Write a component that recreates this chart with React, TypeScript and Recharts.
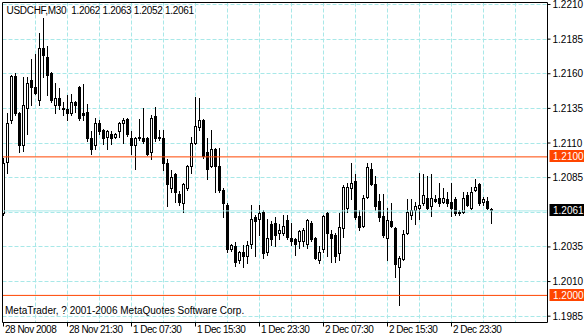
import React from "react";
import { ComposedChart, Bar, XAxis, YAxis, ReferenceLine, CartesianGrid } from "recharts";

const FONT = "'Liberation Sans', Arial, sans-serif";
const GRID = "#a8e8e8";
const LEVEL = "#ff4500";

// USDCHF M30 bars (oldest first)
const opens = [
  1.2059, 1.2096, 1.2126, 1.2158, 1.2131, 1.2108, 1.2135, 1.2155, 1.2150, 1.2141,
  1.2178, 1.2172, 1.2160, 1.2137, 1.2142, 1.2135, 1.2134, 1.2131, 1.2139, 1.2150,
  1.2131, 1.2132, 1.2113, 1.2108, 1.2124, 1.2119, 1.2114, 1.2116, 1.2114, 1.2118,
  1.2124, 1.2127, 1.2113, 1.2108, 1.2114, 1.2113, 1.2113, 1.2103, 1.2129, 1.2113,
  1.2113, 1.2095, 1.2077, 1.2087, 1.2073, 1.2066, 1.2077, 1.2093, 1.2110, 1.2121,
  1.2126, 1.2103, 1.2093, 1.2105, 1.2093, 1.2076, 1.2065, 1.2033, 1.2035, 1.2025,
  1.2031, 1.2028, 1.2037, 1.2056, 1.2055, 1.2060, 1.2031, 1.2051, 1.2052, 1.2045,
  1.2045, 1.2054, 1.2041, 1.2040, 1.2039, 1.2039, 1.2037, 1.2052, 1.2041, 1.2025,
  1.2033, 1.2059, 1.2044, 1.2043, 1.2030, 1.2048, 1.2063, 1.2077, 1.2082, 1.2057,
  1.2050, 1.2071, 1.2091, 1.2080, 1.2068, 1.2057, 1.2041, 1.2053, 1.2048, 1.2020,
  1.2026, 1.2045, 1.2058, 1.2061, 1.2063, 1.2066, 1.2070, 1.2064, 1.2069, 1.2070,
  1.2067, 1.2069, 1.2067, 1.2069, 1.2060, 1.2060, 1.2072, 1.2063, 1.2076, 1.2080,
  1.2067, 1.2068, 1.2062,
];
const highs = [
  1.2099, 1.2131, 1.2159, 1.2160, 1.2132, 1.2157, 1.2157, 1.2170, 1.2174, 1.2189,
  1.2200, 1.2180, 1.2161, 1.2153, 1.2149, 1.2139, 1.2144, 1.2145, 1.2140, 1.2151,
  1.2152, 1.2138, 1.2118, 1.2128, 1.2126, 1.2120, 1.2119, 1.2118, 1.2117, 1.2125,
  1.2128, 1.2128, 1.2118, 1.2114, 1.2127, 1.2135, 1.2114, 1.2130, 1.2136, 1.2119,
  1.2119, 1.2098, 1.2090, 1.2088, 1.2075, 1.2081, 1.2094, 1.2114, 1.2143, 1.2142,
  1.2127, 1.2113, 1.2119, 1.2106, 1.2106, 1.2077, 1.2066, 1.2037, 1.2038, 1.2032,
  1.2036, 1.2039, 1.2065, 1.2058, 1.2065, 1.2061, 1.2055, 1.2053, 1.2056, 1.2051,
  1.2058, 1.2058, 1.2052, 1.2041, 1.2047, 1.2048, 1.2055, 1.2053, 1.2042, 1.2035,
  1.2058, 1.2060, 1.2047, 1.2045, 1.2059, 1.2079, 1.2081, 1.2095, 1.2087, 1.2061,
  1.2072, 1.2095, 1.2095, 1.2086, 1.2073, 1.2073, 1.2063, 1.2066, 1.2049, 1.2028,
  1.2047, 1.2069, 1.2069, 1.2067, 1.2088, 1.2087, 1.2086, 1.2087, 1.2072, 1.2081,
  1.2077, 1.2074, 1.2081, 1.2071, 1.2061, 1.2074, 1.2074, 1.2078, 1.2084, 1.2081,
  1.2071, 1.2071, 1.2063,
];
const lows = [
  1.2058, 1.2088, 1.2124, 1.2130, 1.2103, 1.2104, 1.2116, 1.2137, 1.2145, 1.2137,
  1.2157, 1.2144, 1.2139, 1.2131, 1.2134, 1.2130, 1.2126, 1.2130, 1.2132, 1.2126,
  1.2126, 1.2111, 1.2102, 1.2105, 1.2116, 1.2109, 1.2105, 1.2109, 1.2113, 1.2114,
  1.2110, 1.2115, 1.2102, 1.2091, 1.2112, 1.2110, 1.2101, 1.2098, 1.2111, 1.2112,
  1.2090, 1.2064, 1.2074, 1.2067, 1.2065, 1.2060, 1.2076, 1.2088, 1.2109, 1.2119,
  1.2099, 1.2084, 1.2092, 1.2074, 1.2074, 1.2056, 1.2031, 1.2032, 1.2021, 1.2023,
  1.2020, 1.2023, 1.2034, 1.2028, 1.2043, 1.2027, 1.2029, 1.2036, 1.2035, 1.2040,
  1.2043, 1.2040, 1.2036, 1.2029, 1.2034, 1.2035, 1.2034, 1.2039, 1.2026, 1.2023,
  1.2031, 1.2028, 1.2024, 1.2024, 1.2025, 1.2042, 1.2060, 1.2069, 1.2055, 1.2047,
  1.2049, 1.2070, 1.2079, 1.2061, 1.2053, 1.2042, 1.2025, 1.2049, 1.2013, 1.1993,
  1.2025, 1.2044, 1.2055, 1.2051, 1.2055, 1.2065, 1.2062, 1.2057, 1.2067, 1.2064,
  1.2066, 1.2064, 1.2057, 1.2058, 1.2058, 1.2059, 1.2064, 1.2062, 1.2075, 1.2065,
  1.2065, 1.2062, 1.2052,
];
const closes = [
  1.2095, 1.2124, 1.2158, 1.2131, 1.2108, 1.2137, 1.2153, 1.2150, 1.2146, 1.2178,
  1.2173, 1.2159, 1.2141, 1.2142, 1.2137, 1.2134, 1.2131, 1.2139, 1.2137, 1.2128,
  1.2130, 1.2113, 1.2105, 1.2124, 1.2118, 1.2113, 1.2118, 1.2113, 1.2116, 1.2124,
  1.2126, 1.2116, 1.2108, 1.2113, 1.2113, 1.2111, 1.2102, 1.2128, 1.2113, 1.2114,
  1.2095, 1.2080, 1.2085, 1.2074, 1.2067, 1.2080, 1.2093, 1.2110, 1.2122, 1.2126,
  1.2100, 1.2091, 1.2105, 1.2093, 1.2076, 1.2066, 1.2033, 1.2036, 1.2024, 1.2031,
  1.2028, 1.2036, 1.2055, 1.2053, 1.2059, 1.2030, 1.2041, 1.2040, 1.2043, 1.2047,
  1.2050, 1.2042, 1.2039, 1.2037, 1.2046, 1.2047, 1.2054, 1.2040, 1.2027, 1.2031,
  1.2057, 1.2045, 1.2041, 1.2028, 1.2049, 1.2078, 1.2078, 1.2081, 1.2056, 1.2049,
  1.2070, 1.2092, 1.2080, 1.2064, 1.2056, 1.2043, 1.2054, 1.2050, 1.2022, 1.2027,
  1.2044, 1.2060, 1.2061, 1.2064, 1.2065, 1.2072, 1.2063, 1.2070, 1.2068, 1.2066,
  1.2070, 1.2066, 1.2063, 1.2059, 1.2059, 1.2070, 1.2065, 1.2074, 1.2078, 1.2066,
  1.2069, 1.2063, 1.2061,
];

const timeTickBars = [0, 16, 32, 48, 64, 80, 96, 112];
const timeTickLabels = [
  "28 Nov 2008", "28 Nov 21:30", "1 Dec 07:30", "1 Dec 15:30",
  "1 Dec 23:30", "2 Dec 07:30", "2 Dec 15:30", "2 Dec 23:30",
];
const timeGridBars = [8, 16, 24, 32, 40, 48, 56, 64, 72, 80, 88, 96, 104, 112, 120, 128];
const priceGrid = [1.2210, 1.2185, 1.2160, 1.2135, 1.2110, 1.2085, 1.2060, 1.2035, 1.2010, 1.1985];
const priceLevels = [1.2100, 1.2000];
const lastPrice = 1.2061;
const symbolInfo = "USDCHF,M30";

const X_DOMAIN = [-0.25, 136];
const Y_DOMAIN = [1.198044, 1.221144];

// 1.2060 label sits under the bid tag
const axisPrices = priceGrid.filter((p) => p !== 1.2060);

const data = opens.map((o, i) => ({
  i,
  o,
  h: highs[i],
  l: lows[i],
  c: closes[i],
  range: [lows[i], highs[i]],
}));

const last = data[data.length - 1];
const headline = `${symbolInfo}  ${[last.o, last.h, last.l, last.c].map((v) => v.toFixed(4)).join(" ")}`;

const Candle = (props: any) => {
  const { x, y, width, height, payload } = props;
  if (!payload || x == null) return null;
  const { o, h, l, c } = payload;
  const top = Math.min(y, y + height);
  const span = Math.abs(height);
  const py = (v: number) => (h === l ? top : top + ((h - v) / (h - l)) * span);
  const col = Math.floor(x + width / 2);
  const rH = Math.floor(py(h));
  const rL = Math.floor(py(l));
  const bTop = Math.floor(py(Math.max(o, c)));
  const bBot = Math.floor(py(Math.min(o, c)));
  const up = c > o;
  return (
    <g>
      <rect x={col} y={rH} width={1} height={rL - rH + 1} fill="#000" />
      <rect x={col - 1} y={bTop} width={3} height={bBot - bTop + 1} fill="#000" />
      {up && bBot - bTop > 1 && (
        <rect x={col} y={bTop + 1} width={1} height={bBot - bTop - 1} fill="#fff" />
      )}
    </g>
  );
};

const PriceTag = ({ viewBox, text, bg }: any) => {
  if (!viewBox) return null;
  const x = viewBox.x + viewBox.width + 2;
  const y = Math.floor(viewBox.y);
  return (
    <g>
      <rect x={x} y={y - 6} width={36} height={12} fill={bg} />
      <text x={x + 3.5} y={y + 4} fill="#fff" fontSize={10} fontFamily={FONT}>
        {text}
      </text>
    </g>
  );
};

const TimeTick = (props: any) => {
  const { x, y, payload } = props;
  const idx = timeTickBars.indexOf(payload.value);
  if (idx < 0) return null;
  return (
    <g>
      <line x1={x} x2={x} y1={y - 4} y2={y} stroke="#000" />
      <text
        x={x + 1.5}
        y={y + 6.5}
        fill="#000"
        fontSize={10}
        fontFamily={FONT}
        letterSpacing={-0.5}
        textAnchor="start"
      >
        {timeTickLabels[idx]}
      </text>
    </g>
  );
};

// grid positions: use the axis scale when it is exposed, else the plot offset
const gridRows = (args: any) => {
  const s = args?.yAxis?.scale;
  const off = args?.offset;
  return priceGrid.map((p) => {
    const v =
      typeof s === "function"
        ? s(p)
        : off.top + ((Y_DOMAIN[1] - p) / (Y_DOMAIN[1] - Y_DOMAIN[0])) * off.height;
    return Math.floor(v) + 0.5;
  });
};
const gridCols = (args: any) => {
  const s = args?.xAxis?.scale;
  const off = args?.offset;
  return timeGridBars.map((b) => {
    const v =
      typeof s === "function"
        ? s(b)
        : off.left + ((b - X_DOMAIN[0]) / (X_DOMAIN[1] - X_DOMAIN[0])) * off.width;
    return Math.floor(v) + 0.5;
  });
};

export default function App() {
  return (
    <div style={{ position: "absolute", left: 0, top: 0, width: 584, height: 336, background: "#fff" }}>
      <ComposedChart
        width={584}
        height={336}
        data={data}
        margin={{ top: 2.5, right: 0.5, bottom: 0.5, left: 2.5 }}
      >
        <CartesianGrid
          stroke={GRID}
          strokeDasharray="4 2"
          horizontalCoordinatesGenerator={gridRows}
          verticalCoordinatesGenerator={gridCols}
        />
        <XAxis
          type="number"
          dataKey="i"
          domain={X_DOMAIN}
          allowDataOverflow
          ticks={timeTickBars}
          interval={0}
          height={13}
          tickSize={4}
          tickMargin={0}
          stroke="#000"
          tickLine={false}
          tick={<TimeTick />}
        />
        <YAxis
          type="number"
          orientation="right"
          domain={Y_DOMAIN}
          allowDataOverflow
          ticks={axisPrices}
          interval={0}
          width={36}
          tickSize={3}
          tickMargin={2}
          stroke="#000"
          tickFormatter={(v: number) => v.toFixed(4)}
          tick={{ fontSize: 10, fill: "#000", fontFamily: FONT }}
        />
        <Bar dataKey="range" barSize={3} shape={<Candle />} isAnimationActive={false} />
        <ReferenceLine y={lastPrice} stroke={GRID} />
        {priceLevels.map((p) => (
          <ReferenceLine
            key={`lv${p}`}
            y={p}
            stroke={LEVEL}
            label={(lp: any) => <PriceTag viewBox={lp.viewBox} text={p.toFixed(4)} bg={LEVEL} />}
          />
        ))}
        <ReferenceLine
          y={lastPrice}
          stroke="none"
          label={(lp: any) => <PriceTag viewBox={lp.viewBox} text={lastPrice.toFixed(4)} bg="#000" />}
        />
        <ReferenceLine y={Y_DOMAIN[1]} stroke="#000" />
        <ReferenceLine x={X_DOMAIN[0]} stroke="#000" />
      </ComposedChart>
      <div
        style={{
          position: "absolute",
          left: 6.5,
          top: 5.5,
          fontFamily: FONT,
          fontSize: 10,
          lineHeight: "10px",
          letterSpacing: -0.3,
          whiteSpace: "pre",
          color: "#000",
        }}
      >
        {headline}
      </div>
      <div
        style={{
          position: "absolute",
          left: 5,
          top: 305.5,
          fontFamily: FONT,
          fontSize: 10,
          lineHeight: "10px",
          whiteSpace: "pre",
          color: "#000",
        }}
      >
        MetaTrader, ? 2001-2006 MetaQuotes Software Corp.
      </div>
    </div>
  );
}
